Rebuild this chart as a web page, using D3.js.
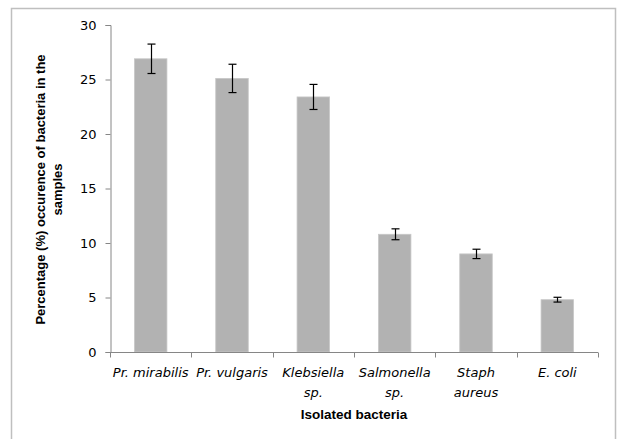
<!DOCTYPE html>
<html>
<head>
<meta charset="utf-8">
<script src="https://cdn.jsdelivr.net/npm/d3@7"></script>
<style>
  body { margin: 0; background: #fff; }
  svg text { fill: #000; }
</style>
</head>
<body>
<svg id="chart"></svg>
<script>
// data
const categories = [["Pr. mirabilis"], ["Pr. vulgaris"], ["Klebsiella", "sp."], ["Salmonella", "sp."], ["Staph", "aureus"], ["E. coli"]];
const values = [26.9, 25.1, 23.4, 10.8, 9.0, 4.8];
const errors = [1.35, 1.3, 1.15, 0.5, 0.43, 0.22];
const yTicks = [0, 5, 10, 15, 20, 25, 30];

const width = 617, height = 439;
const marginLeft = 110, marginRight = 19, marginTop = 25, marginBottom = 87;

const svg = d3.select("#chart")
  .attr("width", width)
  .attr("height", height);

// outer chart frame
svg.append("path")
  .attr("d", `M11.5,${height} V8.5 H615.5 V${height}`)
  .attr("fill", "none")
  .attr("stroke", "#bfbfbf")
  .attr("stroke-width", 1.5);

const labels = categories.map(c => c.join(" "));

const x = d3.scaleBand()
  .domain(labels)
  .range([marginLeft, width - marginRight])
  .paddingInner(0.6)
  .paddingOuter(0.3);

const y = d3.scaleLinear()
  .domain([0, 30])
  .range([height - marginBottom, marginTop]);

// bars
svg.append("g")
  .selectAll("rect")
  .data(values)
  .join("rect")
  .attr("x", (d, i) => x(labels[i]))
  .attr("y", d => y(d))
  .attr("width", x.bandwidth())
  .attr("height", d => y(0) - y(d))
  .attr("fill", "#b2b2b2")
  .attr("stroke", "#c8c8c8")
  .attr("stroke-width", 0.8);

// error bars
const err = svg.append("g")
  .attr("stroke", "#000")
  .attr("stroke-width", 1.2);
values.forEach((v, i) => {
  const cx = Math.round(x(labels[i]) + x.bandwidth() / 2) + 0.5;
  const g = err.append("g");
  g.append("line").attr("x1", cx).attr("x2", cx).attr("y1", y(v + errors[i])).attr("y2", y(v - errors[i]));
  g.append("line").attr("x1", cx - 4).attr("x2", cx + 4).attr("y1", y(v + errors[i])).attr("y2", y(v + errors[i]));
  g.append("line").attr("x1", cx - 4).attr("x2", cx + 4).attr("y1", y(v - errors[i])).attr("y2", y(v - errors[i]));
});

// y axis
const yAxis = svg.append("g")
  .attr("transform", `translate(${marginLeft + 0.5},0)`)
  .call(d3.axisLeft(y).tickValues(yTicks).tickSize(5).tickPadding(9));
yAxis.select(".domain").attr("stroke", "#868686");
yAxis.selectAll(".tick line").attr("stroke", "#868686");
yAxis.selectAll(".tick text")
  .attr("font-family", "DejaVu Sans, sans-serif")
  .attr("font-size", 13)
  .attr("fill", "#333");

// x axis: boundary ticks between categories
const xAxisG = svg.append("g")
  .attr("transform", `translate(0,${y(0) + 0.5})`);
xAxisG.append("line")
  .attr("x1", marginLeft).attr("x2", width - marginRight)
  .attr("stroke", "#868686");
d3.range(labels.length + 1).forEach(i => {
  const tx = Math.round(marginLeft + i * (width - marginRight - marginLeft) / labels.length) + 0.5;
  xAxisG.append("line").attr("x1", tx).attr("x2", tx).attr("y1", 0).attr("y2", 5).attr("stroke", "#868686");
});

// category labels
const catText = svg.append("g")
  .selectAll("text")
  .data(categories)
  .join("text")
  .attr("x", (d, i) => x(labels[i]) + x.bandwidth() / 2)
  .attr("y", y(0) + 25)
  .attr("text-anchor", "middle")
  .attr("font-family", "DejaVu Sans, sans-serif")
  .attr("font-style", "italic")
  .attr("font-size", 13)
  .attr("fill", "#222");
catText.selectAll("tspan")
  .data(d => d)
  .join("tspan")
  .attr("x", function () { return d3.select(this.parentNode).attr("x"); })
  .attr("dy", (d, i) => i === 0 ? 0 : 20)
  .text(d => d);

// axis titles
svg.append("text")
  .attr("x", (marginLeft + width - marginRight) / 2)
  .attr("y", 419)
  .attr("text-anchor", "middle")
  .attr("font-family", "Liberation Sans, Arial, sans-serif")
  .attr("font-weight", "bold")
  .attr("font-size", 13.5)
  .text("Isolated bacteria");

const yTitle = svg.append("text")
  .attr("transform", `translate(0,${(marginTop + y(0)) / 2 + 1}) rotate(-90)`)
  .attr("text-anchor", "middle")
  .attr("font-family", "Liberation Sans, Arial, sans-serif")
  .attr("font-weight", "bold")
  .attr("font-size", 13);
yTitle.append("tspan").attr("x", 0).attr("y", 45).text("Percentage (%) occurence of bacteria in the");
yTitle.append("tspan").attr("x", 0).attr("y", 62).text("samples");
</script>
</body>
</html>
